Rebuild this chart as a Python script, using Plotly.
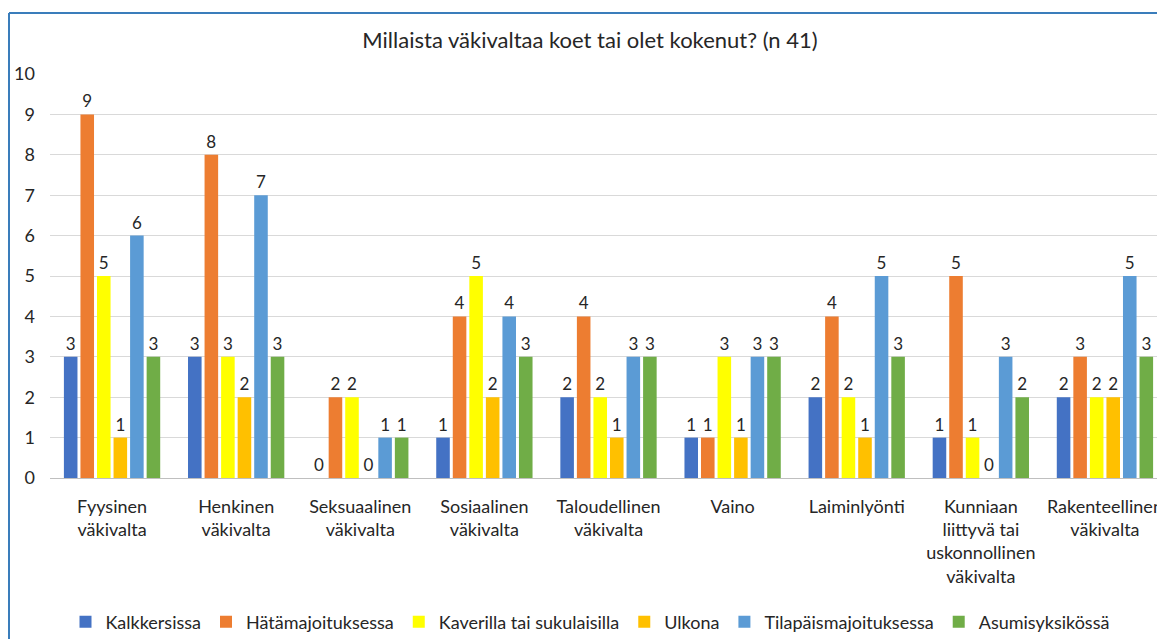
import plotly.graph_objects as go

# --- Data ---
categories = [
    "Fyysinen<br>väkivalta",
    "Henkinen<br>väkivalta",
    "Seksuaalinen<br>väkivalta",
    "Sosiaalinen<br>väkivalta",
    "Taloudellinen<br>väkivalta",
    "Vaino",
    "Laiminlyönti",
    "Kunniaan<br>liittyvä tai<br>uskonnollinen<br>väkivalta",
    "Rakenteellinen<br>väkivalta",
]

kalkkersissa = [3, 3, 0, 1, 2, 1, 2, 1, 2]
hatamajoituksessa = [9, 8, 2, 4, 4, 1, 4, 5, 3]
kaverilla = [5, 3, 2, 5, 2, 3, 2, 1, 2]
ulkona = [1, 2, 0, 2, 1, 1, 1, 0, 2]
tilapaismajoituksessa = [6, 7, 1, 4, 3, 3, 5, 3, 5]
asumisyksikossa = [3, 3, 1, 3, 3, 3, 3, 2, 3]

series = [
    ("Kalkkersissa", kalkkersissa, "#4472C4"),
    ("Hätämajoituksessa", hatamajoituksessa, "#ED7D31"),
    ("Kaverilla tai sukulaisilla", kaverilla, "#FFFF00"),
    ("Ulkona", ulkona, "#FFC000"),
    ("Tilapäismajoituksessa", tilapaismajoituksessa, "#5B9BD5"),
    ("Asumisyksikössä", asumisyksikossa, "#70AD47"),
]

FONT = "Lato, 'Open Sans', sans-serif"
TXT = "#262626"

# the page body adds an 8px offset, so the figure is laid out 8px up/left
OFF = 8
W, H = 1167 - OFF, 639 - OFF
ML, MT = 50 - OFF, 74 - OFF
MR = 0
PH = 404                    # plot height (0 -> 10)
MB = H - MT - PH
PW = W - ML - MR

fig = go.Figure()
for name, vals, color in series:
    fig.add_trace(go.Bar(
        x=categories, y=vals, name=name,
        marker=dict(color=color, line=dict(width=0)),
        text=[str(v) for v in vals],
        textposition="outside",
        textfont=dict(size=17, color=TXT, family=FONT),
        cliponaxis=False,
    ))

legend_y = -((622 - OFF) - (MT + PH)) / PH

fig.update_layout(
    width=W, height=H,
    margin=dict(l=ML, r=MR, t=MT, b=MB, autoexpand=False),
    paper_bgcolor="white", plot_bgcolor="white",
    font=dict(family=FONT, color=TXT),
    barmode="group", bargap=0.2, bargroupgap=0.18,
    title=dict(text="Millaista väkivaltaa koet tai olet kokenut? (n 41)",
               x=(590 - OFF) / W, xanchor="center",
               y=1 - (40 - OFF) / H, yanchor="middle",
               font=dict(size=22, color=TXT, family=FONT)),
    legend=dict(orientation="h", x=(590 - OFF - ML) / PW, xanchor="center",
                y=legend_y, yanchor="middle",
                font=dict(size=18, color=TXT, family=FONT),
                itemwidth=30, traceorder="normal"),
    showlegend=True,
)

fig.update_yaxes(range=[0, 10], dtick=1, showgrid=True, gridcolor="#D9D9D9",
                 gridwidth=1, zeroline=False, showline=False,
                 tickfont=dict(size=18, color=TXT, family=FONT),
                 ticklabelstandoff=14)
fig.update_xaxes(showline=True, linecolor="#BFBFBF", linewidth=1,
                 showgrid=False, ticks="",
                 tickfont=dict(size=18, color=TXT, family=FONT),
                 ticklabelstandoff=12, tickangle=0)

# chart frame (left and top edges visible in the crop)
border = "#3A7DBB"
x_left = (9 - OFF - ML) / PW
y_top = (MT + PH - (13 - OFF)) / PH
fig.add_shape(type="line", xref="paper", yref="paper",
              x0=x_left, x1=x_left, y0=y_top, y1=-MB / PH - 0.05,
              line=dict(color=border, width=2))
fig.add_shape(type="line", xref="paper", yref="paper",
              x0=x_left, x1=1.05, y0=y_top, y1=y_top,
              line=dict(color=border, width=2))

fig.write_html("out.html")
